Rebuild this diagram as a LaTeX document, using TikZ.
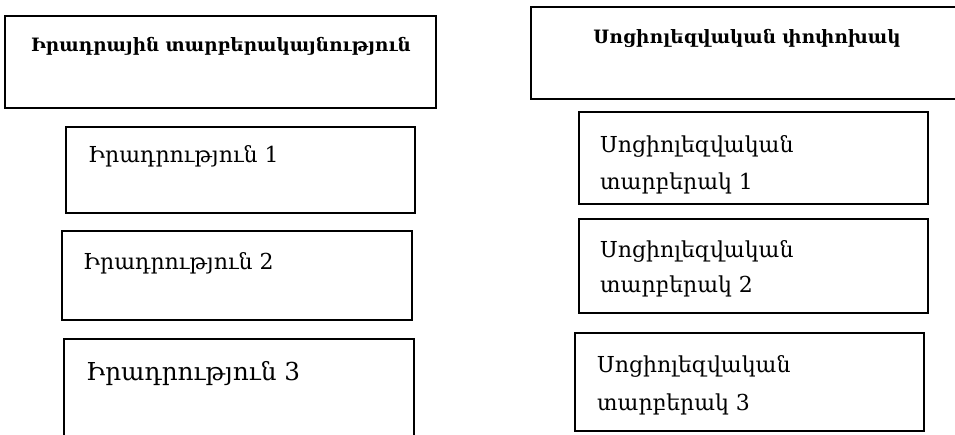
\documentclass[tikz,border=0pt]{standalone}
\usepackage{fontspec}
\setmainfont{DejaVu Serif}
\begin{document}
\begin{tikzpicture}[x=1pt,y=-1pt,
  box/.style={draw=black,line width=1.1pt,fill=none},
  txt/.style={anchor=base west,inner sep=0pt,font=\fontsize{22}{26}\selectfont},
  big/.style={anchor=base west,inner sep=0pt,font=\fontsize{24.7}{29}\selectfont},
  ttl/.style={anchor=base,inner sep=0pt,font=\bfseries\fontsize{18.4}{22}\selectfont}]
\useasboundingbox (0,0) rectangle (955,435);
\clip (0,0) rectangle (955,435);
% left column
\draw[box] (5,16) rectangle (436,108);
\node[ttl] (tl) at (221,52) {Իրադրային տարբերակայնություն};
\draw[box] (66,127) rectangle (415,213);
\node[txt] (l1) at (88,163) {Իրադրություն 1};
\draw[box] (62,231) rectangle (412,320);
\node[txt] (l2) at (83,270) {Իրադրություն 2};
\draw[box] (64,339) rectangle (414,445);
\node[big] (l3) at (86,380) {Իրադրություն 3};
% right column
\draw[box] (531,7) rectangle (965,99);
\node[ttl] (tr) at (747,44) {Սոցիոլեզվական փոփոխակ};
\draw[box] (579,112) rectangle (928,204);
\node[txt] (r1a) at (600,153) {Սոցիոլեզվական};
\node[txt] (r1b) at (600,190) {տարբերակ 1};
\draw[box] (579,219) rectangle (928,313);
\node[txt] (r2a) at (600,258) {Սոցիոլեզվական};
\node[txt] (r2b) at (600,293) {տարբերակ 2};
\draw[box] (575,333) rectangle (924,431);
\node[txt] (r3a) at (597,372) {Սոցիոլեզվական};
\node[txt] (r3b) at (597,410) {տարբերակ 3};
\end{tikzpicture}
\end{document}
